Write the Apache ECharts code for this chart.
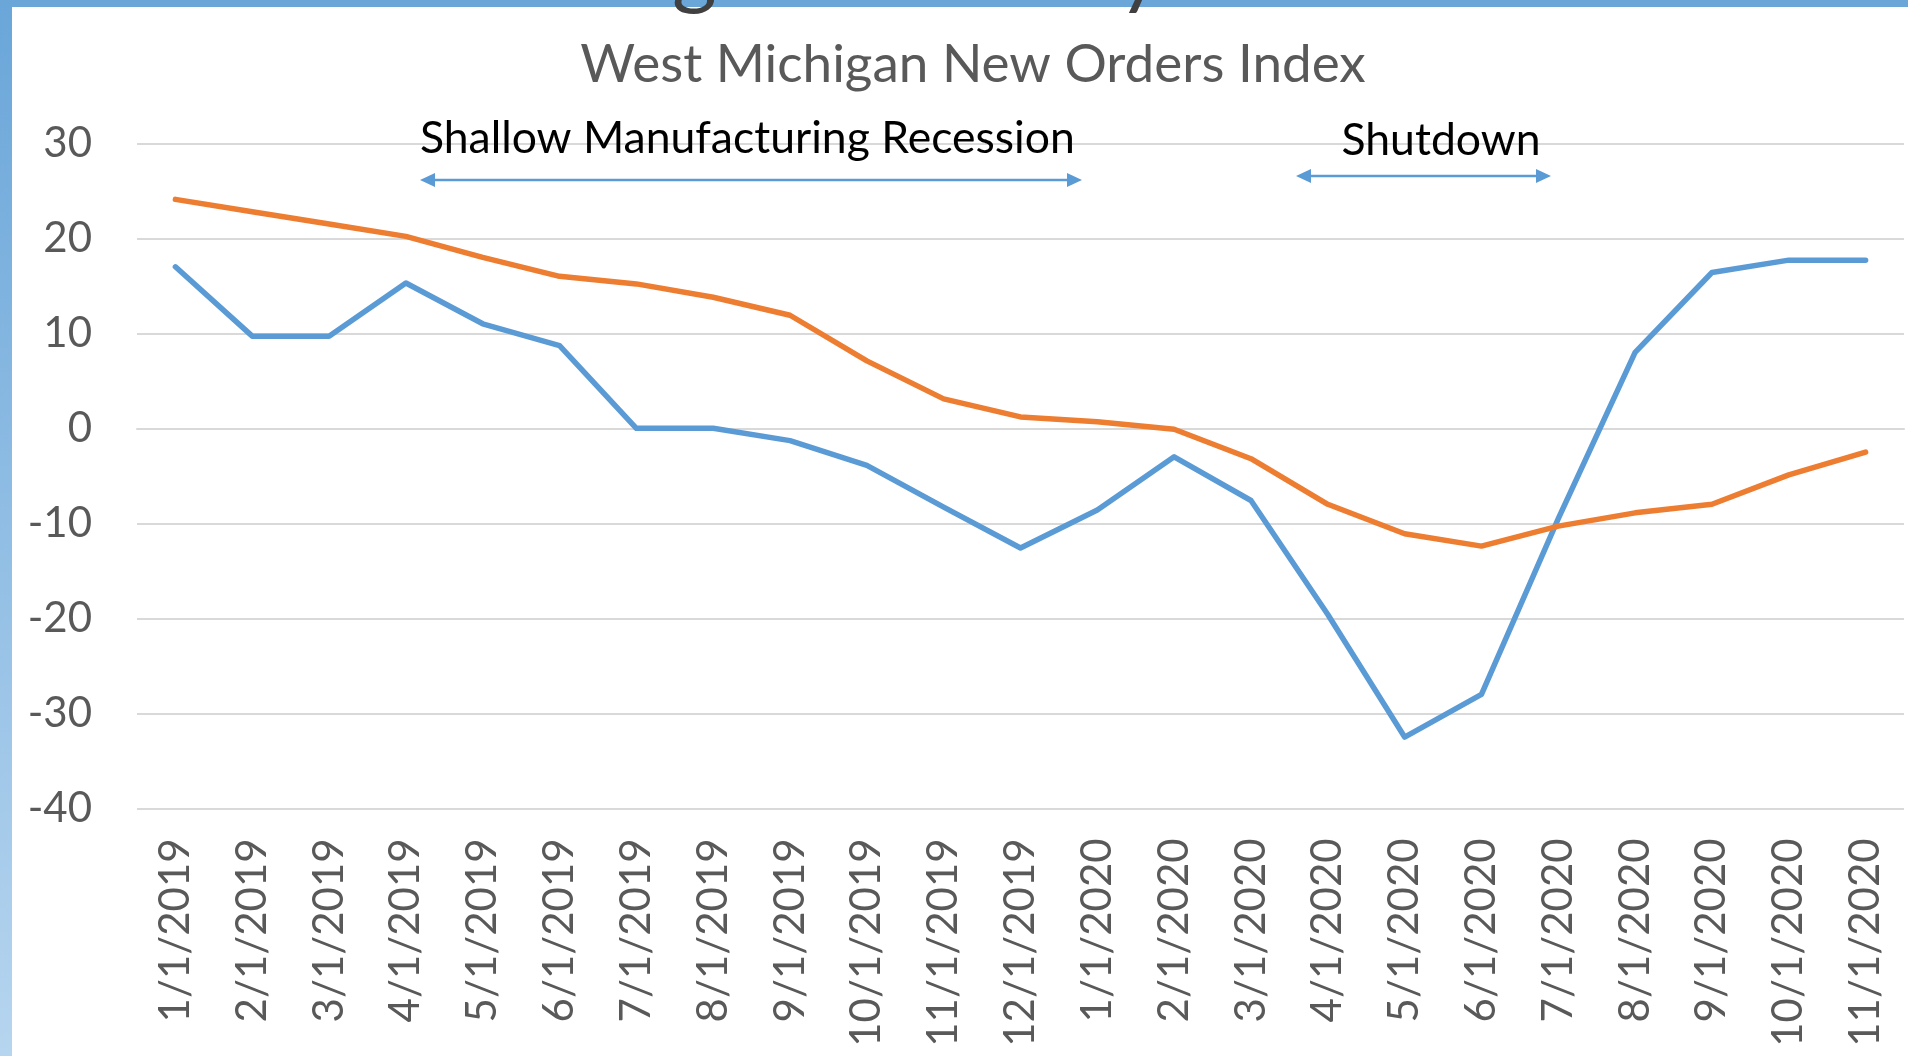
<!DOCTYPE html>
<html>
<head>
<meta charset="utf-8">
<script src="https://cdn.jsdelivr.net/npm/echarts@6/dist/echarts.min.js"></script>
<style>
  html, body { margin: 0; padding: 0; background: #ffffff; }
  #chart { width: 1908px; height: 1056px; }
</style>
</head>
<body>
<div id="chart"></div>
<script>
const categories = ['1/1/2019','2/1/2019','3/1/2019','4/1/2019','5/1/2019','6/1/2019','7/1/2019','8/1/2019','9/1/2019','10/1/2019','11/1/2019','12/1/2019','1/1/2020','2/1/2020','3/1/2020','4/1/2020','5/1/2020','6/1/2020','7/1/2020','8/1/2020','9/1/2020','10/1/2020','11/1/2020'];
const newOrdersIndex = [17.0, 9.7, 9.7, 15.3, 11.0, 8.7, 0.0, 0.0, -1.3, -3.9, -8.3, -12.6, -8.6, -3.0, -7.6, -19.6, -32.5, -28.0, -9.5, 8.0, 16.4, 17.7, 17.7];
const movingAverage = [24.1, 22.8, 21.5, 20.2, 18.0, 16.0, 15.2, 13.8, 11.9, 7.1, 3.1, 1.2, 0.7, -0.1, -3.2, -8.0, -11.1, -12.4, -10.3, -8.9, -8.0, -4.9, -2.5];
const yMin = -40, yMax = 30, yStep = 10;
const chartTitle = 'West Michigan New Orders Index';
const noteRecession = 'Shallow Manufacturing Recession';
const noteShutdown = 'Shutdown';

const FONT = 'Lato';
const ARROW = '#5b9bd5';

function arrow(x1, x2, y) {
  const L = 15, H = 7;
  return [
    { type: 'line', shape: { x1: x1 + L - 2, y1: y, x2: x2 - L + 2, y2: y }, style: { stroke: ARROW, lineWidth: 2.5 }, z: 10 },
    { type: 'polygon', shape: { points: [[x1, y], [x1 + L, y - H], [x1 + L, y + H]] }, style: { fill: ARROW }, z: 10 },
    { type: 'polygon', shape: { points: [[x2, y], [x2 - L, y - H], [x2 - L, y + H]] }, style: { fill: ARROW }, z: 10 }
  ];
}

const chart = echarts.init(document.getElementById('chart'), null, { renderer: 'canvas' });
chart.setOption({
  backgroundColor: '#ffffff',
  animation: false,
  title: {
    text: chartTitle,
    left: 968, top: 33, textAlign: 'center',
    textStyle: { fontFamily: FONT, fontSize: 53, fontWeight: 'normal', color: '#595959' }
  },
  grid: { left: 137, right: 4, top: 143.3, bottom: 247.7, containLabel: false },
  xAxis: {
    type: 'category', data: categories, boundaryGap: true,
    axisLine: { show: true, lineStyle: { color: '#d9d9d9', width: 2 } },
    axisTick: { show: false },
    axisLabel: { rotate: 90, interval: 0, margin: 30, fontFamily: FONT, fontSize: 42, color: '#595959' },
    splitLine: { show: false }
  },
  yAxis: {
    type: 'value', min: yMin, max: yMax, interval: yStep,
    axisLine: { show: false }, axisTick: { show: false },
    axisLabel: { margin: 45, fontFamily: FONT, fontSize: 42, color: '#595959' },
    splitLine: { show: true, lineStyle: { color: '#d9d9d9', width: 2 } }
  },
  series: [
    {
      name: 'New Orders Index', type: 'line', data: newOrdersIndex, showSymbol: false, symbol: 'none',
      lineStyle: { color: '#5b9bd5', width: 5.5, cap: 'round', join: 'round' }, z: 3
    },
    {
      name: 'Moving Average', type: 'line', data: movingAverage, showSymbol: false, symbol: 'none',
      lineStyle: { color: '#ed7d31', width: 5.5, cap: 'round', join: 'round' }, z: 4
    }
  ],
  graphic: [
    { type: 'rect', shape: { x: 0, y: 0, width: 12, height: 1056 }, z: 20,
      style: { fill: new echarts.graphic.LinearGradient(0, 0, 0, 1, [{ offset: 0, color: '#6aa6d9' }, { offset: 1, color: '#b6d5ef' }]) } },
    { type: 'rect', shape: { x: 0, y: 0, width: 1908, height: 7 }, style: { fill: '#6aa6d8' }, z: 20 },
    { type: 'text', x: 672, y: 13, z: 21, style: { text: 'g', fontFamily: FONT, fontSize: 86, fill: '#404040', verticalAlign: 'bottom', align: 'left' } },
    { type: 'text', x: 1118, y: 13, z: 21, style: { text: 'y', fontFamily: FONT, fontSize: 86, fill: '#404040', verticalAlign: 'bottom', align: 'left' } },
    { type: 'text', x: 420, y: 139, z: 10, style: { text: noteRecession, fontFamily: FONT, fontSize: 44.5, fill: '#000000', verticalAlign: 'middle', align: 'left' } },
    { type: 'text', x: 1441, y: 141, z: 10, style: { text: noteShutdown, fontFamily: FONT, fontSize: 44.5, fill: '#000000', verticalAlign: 'middle', align: 'center' } },
    ...arrow(420, 1082, 180),
    ...arrow(1296, 1551, 176)
  ]
});
</script>
</body>
</html>
